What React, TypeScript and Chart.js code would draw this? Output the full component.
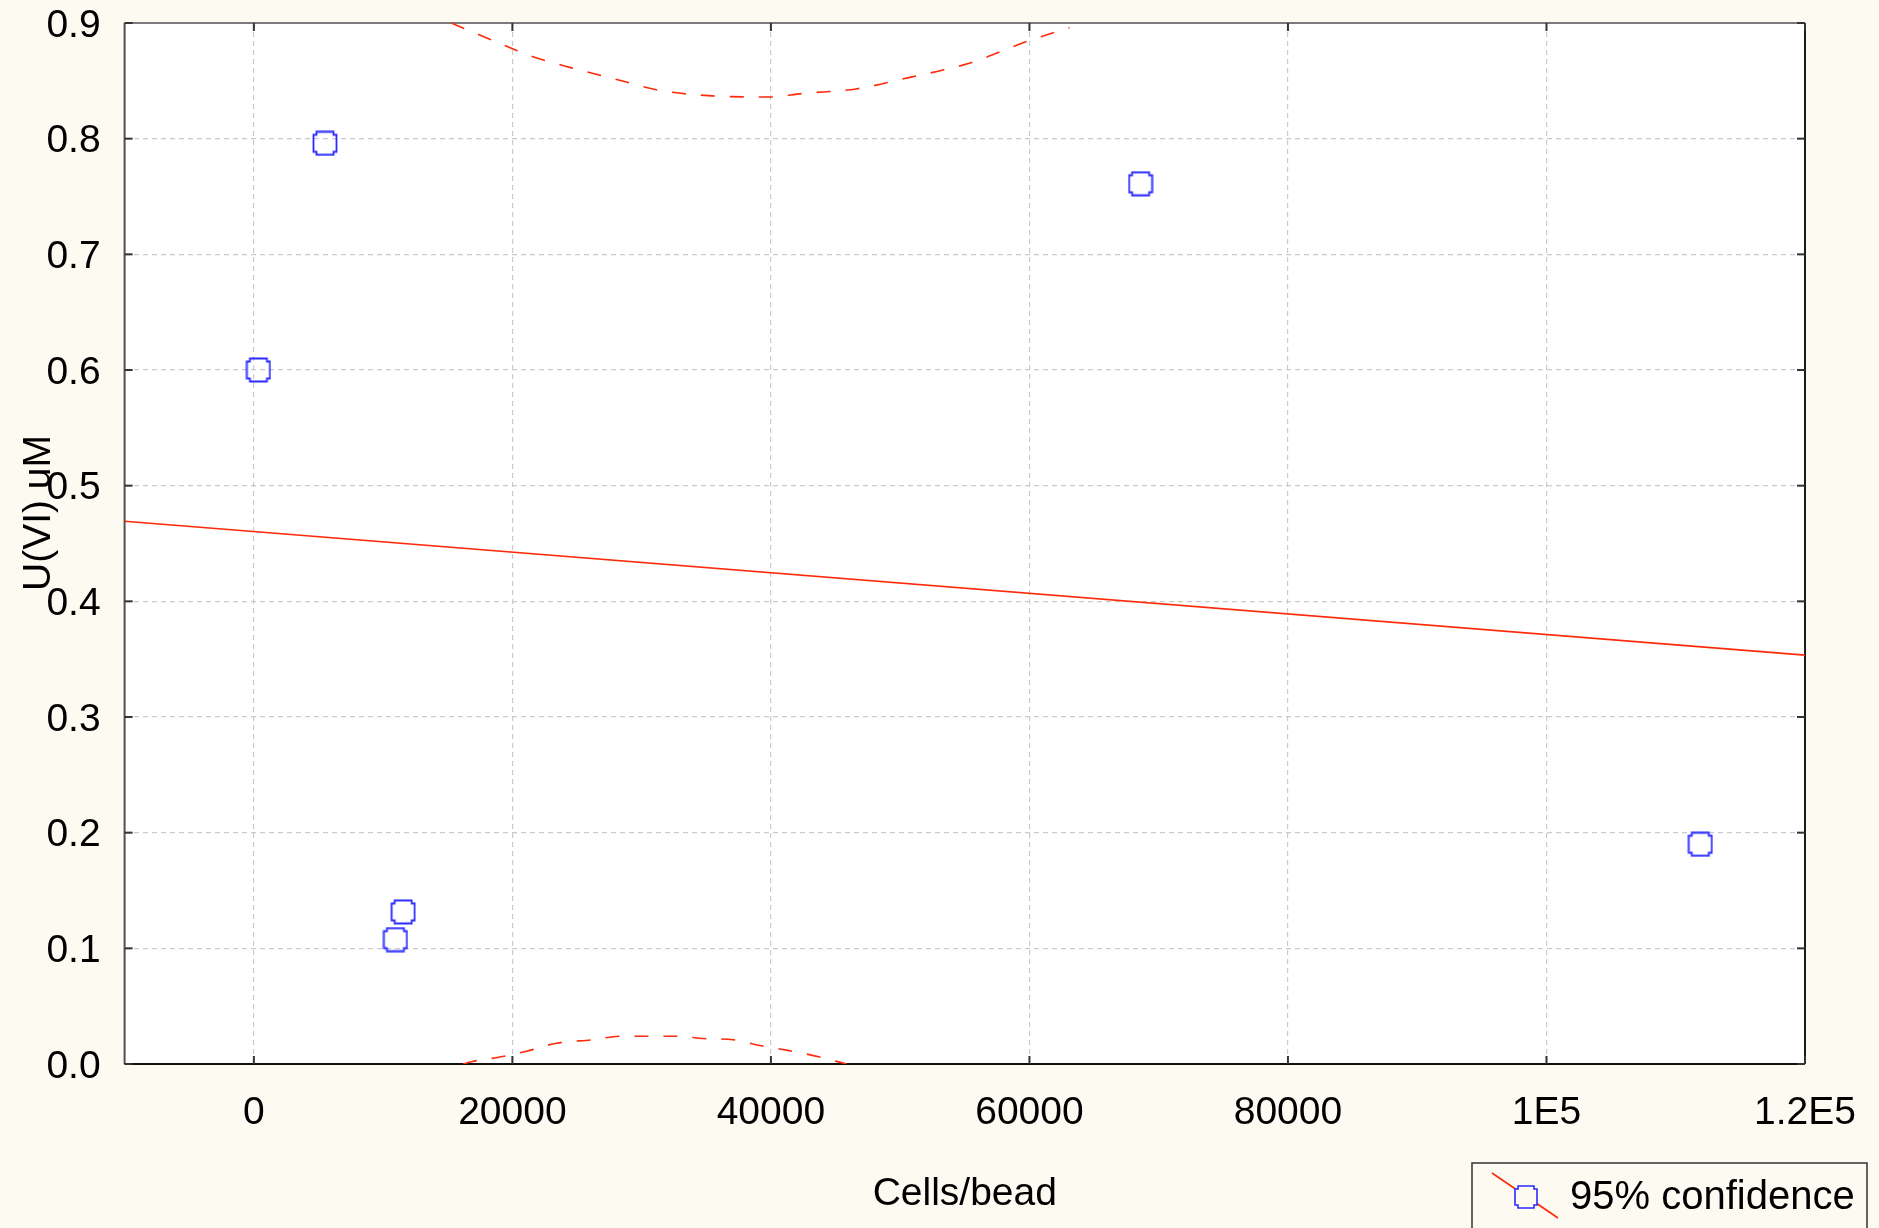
import React, { useEffect, useRef } from 'react';
import { Chart, registerables } from 'chart.js';

Chart.register(...registerables);

// ---- data ----
const pointsX = [350, 5500, 10950, 11550, 68600, 111900];
const pointsY = [0.6, 0.796, 0.1075, 0.1315, 0.761, 0.19];

const fitX = [-10000, 120000];
const fitY = [0.4693, 0.3535];

const upperX = [15270, 19965, 21530, 24661, 28139, 31270, 35443, 39965, 42400, 46574, 50748, 55270, 59791, 63096];
const upperY = [0.9, 0.878, 0.871, 0.861, 0.851, 0.842, 0.837, 0.836, 0.839, 0.843, 0.853, 0.865, 0.884, 0.896];

const lowerX = [16195, 16840, 19025, 21100, 23420, 26255, 28320, 30640, 32960, 34760, 37080, 39145, 41210, 43790, 45850];
const lowerY = [0.0, 0.002, 0.006, 0.011, 0.018, 0.021, 0.024, 0.024, 0.024, 0.022, 0.021, 0.016, 0.012, 0.006, 0.0];

const xTickValues = [0, 20000, 40000, 60000, 80000, 100000, 120000];
const xTickLabels = ['0', '20000', '40000', '60000', '80000', '1E5', '1.2E5'];
const yTickValues = [0, 0.1, 0.2, 0.3, 0.4, 0.5, 0.6, 0.7, 0.8, 0.9];
const yTickLabels = ['0.0', '0.1', '0.2', '0.3', '0.4', '0.5', '0.6', '0.7', '0.8', '0.9'];

const xTitle = 'Cells/bead';
const yTitle = 'U(VI) uM';
const legendLabel = '95% confidence';

const FONT_FAMILY = '"Liberation Sans", Arial, Helvetica, sans-serif';
const CREAM = '#fdfaf2';
const RED = '#ff2a0a';
const BLUE = '#2b2bff';

const toXY = (xs: number[], ys: number[]) => xs.map((x, i) => ({ x, y: ys[i] }));

function markerPath(ctx: CanvasRenderingContext2D, cx: number, cy: number, half: number, notch: number) {
  ctx.beginPath();
  ctx.moveTo(cx - half + notch, cy - half);
  ctx.lineTo(cx + half - notch, cy - half);
  ctx.lineTo(cx + half - notch, cy - half + notch);
  ctx.lineTo(cx + half, cy - half + notch);
  ctx.lineTo(cx + half, cy + half - notch);
  ctx.lineTo(cx + half - notch, cy + half - notch);
  ctx.lineTo(cx + half - notch, cy + half);
  ctx.lineTo(cx - half + notch, cy + half);
  ctx.lineTo(cx - half + notch, cy + half - notch);
  ctx.lineTo(cx - half, cy + half - notch);
  ctx.lineTo(cx - half, cy - half + notch);
  ctx.lineTo(cx - half + notch, cy - half + notch);
  ctx.closePath();
}

function makeMarker(): HTMLCanvasElement {
  const c = document.createElement('canvas');
  c.width = 26;
  c.height = 26;
  const g = c.getContext('2d') as CanvasRenderingContext2D;
  markerPath(g, 13, 13, 11.5, 3);
  g.strokeStyle = BLUE;
  g.lineWidth = 1.8;
  g.stroke();
  return c;
}

const bgPlugin = {
  id: 'bgPlugin',
  beforeDraw(chart: any) {
    const { ctx, chartArea } = chart;
    ctx.save();
    ctx.fillStyle = CREAM;
    ctx.fillRect(0, 0, chart.width, chart.height);
    ctx.fillStyle = '#ffffff';
    ctx.fillRect(chartArea.left, chartArea.top, chartArea.right - chartArea.left, chartArea.bottom - chartArea.top);
    ctx.restore();
  },
};

const framePlugin = {
  id: 'framePlugin',
  beforeDatasetsDraw(chart: any) {
    const { ctx, chartArea } = chart;
    const { left, right, top, bottom } = chartArea;
    const xs = chart.scales.x;
    const ys = chart.scales.y;
    const line = (x1: number, y1: number, x2: number, y2: number, color: string, w: number) => {
      ctx.strokeStyle = color;
      ctx.lineWidth = w;
      ctx.beginPath();
      ctx.moveTo(x1, y1);
      ctx.lineTo(x2, y2);
      ctx.stroke();
    };
    ctx.save();
    ctx.setLineDash([]);
    line(left, top, right, top, '#7a7a7a', 2);
    line(left, top, left, bottom, '#505050', 2);
    line(right, top, right, bottom, '#1a1a1a', 2);
    line(left, bottom, right, bottom, '#111111', 2);
    const tl = 8;
    xTickValues.forEach((v) => {
      const px = xs.getPixelForValue(v);
      line(px, bottom, px, bottom - tl, '#333', 2);
      line(px, top, px, top + tl, '#333', 2);
    });
    yTickValues.forEach((v) => {
      const py = ys.getPixelForValue(v);
      line(left, py, left + tl, py, '#333', 2);
      line(right, py, right - tl, py, '#333', 2);
    });
    ctx.restore();
  },
};

const textPlugin = {
  id: 'textPlugin',
  afterDraw(chart: any) {
    const { ctx, chartArea } = chart;
    ctx.save();
    ctx.fillStyle = '#000';
    ctx.font = `39px ${FONT_FAMILY}`;
    // x title
    ctx.textAlign = 'center';
    ctx.textBaseline = 'middle';
    ctx.fillText(xTitle, (chartArea.left + chartArea.right) / 2, 1194);
    // y title
    ctx.save();
    ctx.translate(39, 513);
    ctx.rotate(-Math.PI / 2);
    ctx.fillText(yTitle, 0, 0);
    ctx.restore();

    // legend box
    ctx.fillStyle = CREAM;
    ctx.fillRect(1472, 1163, 395, 70);
    ctx.strokeStyle = '#333';
    ctx.lineWidth = 1.5;
    ctx.beginPath();
    ctx.moveTo(1472, 1240);
    ctx.lineTo(1472, 1163);
    ctx.lineTo(1867, 1163);
    ctx.lineTo(1867, 1240);
    ctx.stroke();
    // legend line
    ctx.strokeStyle = RED;
    ctx.lineWidth = 1.6;
    ctx.beginPath();
    ctx.moveTo(1492, 1173);
    ctx.lineTo(1558, 1218);
    ctx.stroke();
    // legend marker
    markerPath(ctx, 1526, 1197, 11, 3);
    ctx.fillStyle = CREAM;
    ctx.fill();
    ctx.strokeStyle = BLUE;
    ctx.lineWidth = 1.6;
    ctx.stroke();
    // legend text
    ctx.fillStyle = '#000';
    ctx.textAlign = 'left';
    ctx.textBaseline = 'middle';
    ctx.font = `40px ${FONT_FAMILY}`;
    ctx.fillText(legendLabel, 1570, 1198);
    ctx.restore();
  },
};

export default function App() {
  const canvasRef = useRef<HTMLCanvasElement | null>(null);

  useEffect(() => {
    document.body.style.margin = '0';
    document.body.style.background = CREAM;
    const canvas = canvasRef.current;
    if (!canvas) return;
    const tickFont = { family: FONT_FAMILY, size: 39 };
    const marker = makeMarker();
    const chart = new Chart(canvas, {
      type: 'scatter',
      data: {
        datasets: [
          {
            label: 'points',
            data: toXY(pointsX, pointsY),
            pointStyle: marker,
            pointRadius: 13,
            borderColor: BLUE,
            backgroundColor: 'rgba(255,255,255,0)',
            showLine: false,
          } as any,
          {
            label: 'fit',
            data: toXY(fitX, fitY),
            showLine: true,
            borderColor: RED,
            borderWidth: 1.6,
            pointRadius: 0,
            fill: false,
          } as any,
          {
            label: 'upper',
            data: toXY(upperX, upperY),
            showLine: true,
            borderColor: RED,
            borderWidth: 1.6,
            borderDash: [14, 15],
            pointRadius: 0,
            cubicInterpolationMode: 'monotone',
            fill: false,
          } as any,
          {
            label: 'lower',
            data: toXY(lowerX, lowerY),
            showLine: true,
            borderColor: RED,
            borderWidth: 1.6,
            borderDash: [14, 15],
            pointRadius: 0,
            cubicInterpolationMode: 'monotone',
            fill: false,
          } as any,
        ],
      },
      options: {
        responsive: false,
        animation: false,
        devicePixelRatio: 1,
        events: [],
        layout: { padding: { top: 23, right: 74, left: 0, bottom: 0 } },
        plugins: {
          legend: { display: false },
          tooltip: { enabled: false },
        },
        scales: {
          x: {
            type: 'linear',
            min: -10000,
            max: 120000,
            afterBuildTicks: (s: any) => {
              s.ticks = xTickValues.map((v) => ({ value: v }));
            },
            afterFit: (s: any) => {
              s.height = 164;
              s.paddingLeft = 0;
              s.paddingRight = 0;
            },
            ticks: {
              font: tickFont,
              color: '#000',
              padding: 26,
              maxRotation: 0,
              minRotation: 0,
              autoSkip: false,
              callback: (v: any) => {
                const i = xTickValues.indexOf(Number(v));
                return i >= 0 ? xTickLabels[i] : '';
              },
            },
            grid: { color: '#cacaca', lineWidth: 1.2, drawTicks: false },
            border: { display: false, dash: [5, 4] },
          },
          y: {
            type: 'linear',
            min: 0,
            max: 0.9,
            afterBuildTicks: (s: any) => {
              s.ticks = yTickValues.map((v) => ({ value: v }));
            },
            afterFit: (s: any) => {
              s.width = 124.6;
              s.paddingTop = 0;
              s.paddingBottom = 0;
            },
            ticks: {
              font: tickFont,
              color: '#000',
              padding: 24,
              labelOffset: 3,
              autoSkip: false,
              callback: (v: any) => {
                const i = yTickValues.findIndex((t) => Math.abs(t - Number(v)) < 1e-9);
                return i >= 0 ? yTickLabels[i] : '';
              },
            },
            grid: { color: '#cacaca', lineWidth: 1.2, drawTicks: false },
            border: { display: false, dash: [5, 4] },
          },
        },
      } as any,
      plugins: [bgPlugin, framePlugin, textPlugin],
    });
    return () => chart.destroy();
  }, []);

  return (
    <div style={{ width: 1879, height: 1228, background: CREAM }}>
      <canvas ref={canvasRef} width={1879} height={1228} style={{ display: 'block' }} />
    </div>
  );
}
